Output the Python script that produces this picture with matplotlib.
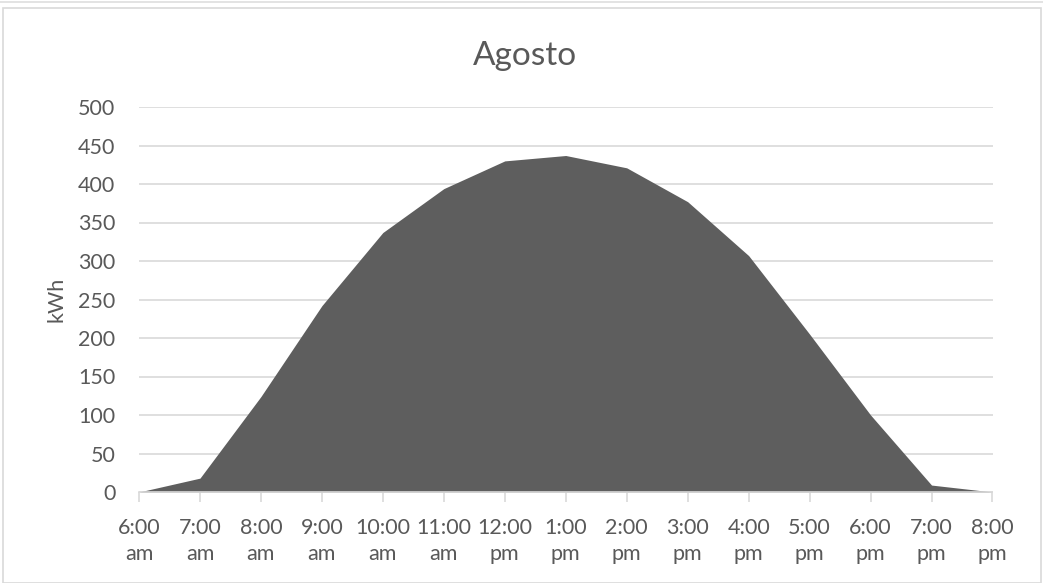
import matplotlib
matplotlib.use("Agg")
import matplotlib.pyplot as plt
from matplotlib.patches import Rectangle

hours = ["6:00\nam", "7:00\nam", "8:00\nam", "9:00\nam", "10:00\nam", "11:00\nam",
         "12:00\npm", "1:00\npm", "2:00\npm", "3:00\npm", "4:00\npm", "5:00\npm",
         "6:00\npm", "7:00\npm", "8:00\npm"]
kwh = [0, 18, 124, 242, 337, 394, 430, 437, 421, 377, 307, 205, 100, 9, 0]
yticks = [0, 50, 100, 150, 200, 250, 300, 350, 400, 450, 500]

plt.rcParams['font.family'] = ['Lato', 'DejaVu Sans']
txt = "#595959"
fs = 15.5

fig = plt.figure(figsize=(10.43, 5.83), dpi=100)
W, H = 1043, 583
ax = fig.add_axes([139 / W, (583 - 492) / H, (992.5 - 139) / W, (492 - 107) / H])

x = list(range(len(hours)))
ax.fill_between(x, kwh, 0, color="#5e5e5e", linewidth=0, zorder=2)
ax.set_xlim(0, len(hours) - 1)
ax.set_ylim(0, 500)
ax.set_yticks(yticks)
ax.set_yticklabels([str(v) for v in yticks])
ax.set_xticks(x)
ax.set_xticklabels(hours, linespacing=1.35)
ax.grid(axis="y", color="#d9d9d9", linewidth=1.2, zorder=0)
ax.set_axisbelow(True)
for s in ["top", "right", "left"]:
    ax.spines[s].set_visible(False)
ax.spines["bottom"].set_color("#d9d9d9")
ax.spines["bottom"].set_linewidth(1.2)
ax.tick_params(axis="y", length=0, pad=17, labelsize=fs, labelcolor=txt)
ax.tick_params(axis="x", length=7, color="#d9d9d9", width=1.2, pad=12, labelsize=fs, labelcolor=txt)
fig.text(56 / W, 1 - 299 / H, "kWh", ha="center", va="center", rotation=90, fontsize=fs, color=txt)
fig.text(525 / W, 1 - 65 / H, "Agosto", ha="center", va="baseline", fontsize=24, color=txt)

# chart frame
fig.patches.append(Rectangle((3 / W, 0), (1041 - 3) / W, (583 - 8) / H, transform=fig.transFigure,
                             fill=False, edgecolor="#d9d9d9", linewidth=1.2))
fig.patches.append(Rectangle((0, 1 - 3 / H), 1, 2 / H, transform=fig.transFigure,
                             facecolor="#e3e3e3", edgecolor="none"))

fig.savefig("out.png", dpi=100)
